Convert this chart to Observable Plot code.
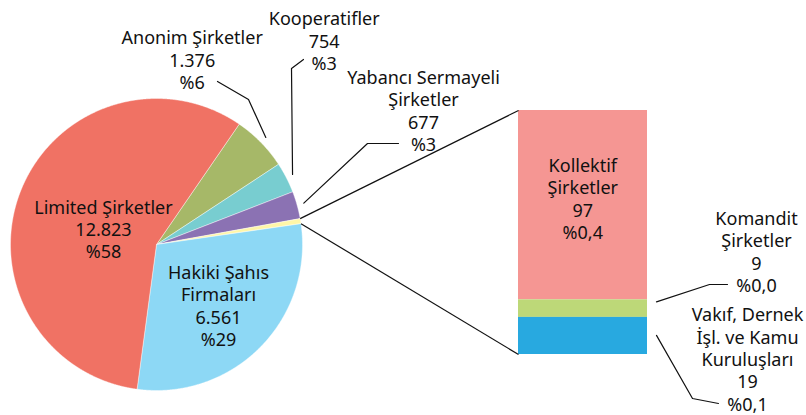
<!DOCTYPE html>
<html><head><meta charset="utf-8">
<script src="https://cdn.jsdelivr.net/npm/d3@7"></script>
<script src="https://cdn.jsdelivr.net/npm/@observablehq/plot@0.6"></script>
<style>body{margin:0;background:#fff} #chart svg{display:block}</style>
</head><body><div id="chart"></div><script>
// ---- data ----
const pieCategories = ["Anonim Şirketler", "Kooperatifler", "Yabancı Sermayeli\nŞirketler", "Hakiki Şahıs\nFirmaları", "Limited Şirketler"];
const pieValues = [1376, 754, 677, 6561, 12823];
const piePercents = ["%6", "%3", "%3", "%29", "%58"];
const barCategories = ["Kollektif\nŞirketler", "Komandit\nŞirketler", "Vakıf, Dernek\nİşl. ve Kamu\nKuruluşları"];
const barValues = [97, 9, 19];
const barPercents = ["%0,4", "%0,0", "%0,1"];

// ---- styles / layout ----
const pieColors = ["#A6B868", "#78CDD0", "#8B72B3", "#FFF6A8", "#8DD8F5", "#F07264"];
const barColors = ["#F59693", "#BDD878", "#28A9E0"];
const W = 806, H = 415;
const CX = 156, CY = 244, R = 146;
const START = 34.5 * Math.PI / 180;
const BAR = {x1: 518, x2: 647, y1: 110, y2: 354};
const fmt = d3.formatLocale({thousands: ".", grouping: [3], decimal: ",", currency: ["", ""]}).format(",d");

// slices: first three, grouped "other", then the two big ones
const otherValue = d3.sum(barValues);
const slices = [
  ...pieCategories.slice(0, 3).map((c, i) => ({key: c, value: pieValues[i]})),
  {key: "other", value: otherValue},
  ...pieCategories.slice(3).map((c, i) => ({key: c, value: pieValues[i + 3]}))
].map((d, i) => ({...d, color: pieColors[i]}));
const arcs = d3.pie().sort(null).value(d => d.value).startAngle(START).endAngle(START + 2 * Math.PI)(slices);
const pt = (a, r) => [CX + r * Math.sin(a), CY - r * Math.cos(a)];

const piePts = [];
for (const a of arcs) {
  const n = Math.max(2, Math.ceil((a.endAngle - a.startAngle) / (0.25 * Math.PI / 180)));
  const c = [CX, CY];
  piePts.push({k: a.data.key, color: a.data.color, x: c[0], y: c[1]});
  for (let i = 0; i <= n; i++) {
    const [x, y] = pt(a.startAngle + (a.endAngle - a.startAngle) * i / n, R);
    piePts.push({k: a.data.key, color: a.data.color, x, y});
  }
  piePts.push({k: a.data.key, color: a.data.color, x: c[0], y: c[1]});
}

// bar of "other"
const yb = d3.scaleLinear().domain([0, otherValue]).range([BAR.y1, BAR.y2]);
const cum = d3.cumsum(barValues);
const barData = barValues.map((v, i) => ({y1: yb(cum[i] - v), y2: yb(cum[i]), color: barColors[i]}));

// connectors from "other" slice to bar
const otherArc = arcs[3];
const p0 = pt(otherArc.startAngle, R), p1 = pt(otherArc.endAngle, R);
const connectors = [
  {x1: p0[0], y1: p0[1], x2: BAR.x1, y2: BAR.y1},
  {x1: p1[0], y1: p1[1], x2: BAR.x1, y2: BAR.y2}
];

// leader lines
const mid = a => (a.startAngle + a.endAngle) / 2;
const leaderElbows = [
  [[248, 99], [217, 81]],
  [[291, 68], [303, 59]],
  [[367, 143], [398, 143]]
];
const leaders = [];
leaderElbows.forEach((el, i) => {
  const s = pt(mid(arcs[i]), R + 7);
  [s, ...el].forEach(([x, y]) => leaders.push({k: i, x, y}));
});
const barLeaderElbows = [
  [[709, 284], [727, 284]],
  [[692, 398], [718, 403]]
];
[1, 2].forEach((bi, j) => {
  const s = [BAR.x2 + 9, barData[bi].y1 + (j === 0 ? 2 : 18)];
  [s, ...barLeaderElbows[j]].forEach(([x, y]) => leaders.push({k: 10 + j, x, y}));
});

// labels
const pieLabelPos = [[191.7, 59], [323.7, 40], [423, 110], [218, 305], [103, 228.3]];
const barLabelPos = [[582.3, 197.8], [756, 251], [747, 358.3]];
const labels = [
  ...pieCategories.map((c, i) => ({x: pieLabelPos[i][0], y: pieLabelPos[i][1], t: `${c}\n${fmt(pieValues[i])}\n${piePercents[i]}`})),
  ...barCategories.map((c, i) => ({x: barLabelPos[i][0], y: barLabelPos[i][1], t: `${c}\n${fmt(barValues[i])}\n${barPercents[i]}`}))
];

const chart = Plot.plot({
  width: W, height: H, margin: 0,
  x: {domain: [0, W], range: [0, W], axis: null},
  y: {domain: [0, H], range: [0, H], axis: null},
  color: {type: "identity"},
  style: {fontFamily: "'Noto Sans', sans-serif", background: "#fff"},
  marks: [
    Plot.line(piePts, {x: "x", y: "y", z: "k", fill: "color", stroke: "#fff", strokeWidth: 0.6, strokeOpacity: 0.7}),
    Plot.rect(barData, {x1: () => BAR.x1, x2: () => BAR.x2, y1: "y1", y2: "y2", fill: "color"}),
    Plot.link(connectors, {x1: "x1", y1: "y1", x2: "x2", y2: "y2", stroke: "#111", strokeWidth: 1.2}),
    Plot.line(leaders, {x: "x", y: "y", z: "k", stroke: "#111", strokeWidth: 1.2}),
    Plot.text(labels, {x: "x", y: "y", text: "t", fontSize: 18, lineHeight: 1.24, fill: "#111", textAnchor: "middle"})
  ]
});
document.getElementById("chart").appendChild(chart);
</script></body></html>
